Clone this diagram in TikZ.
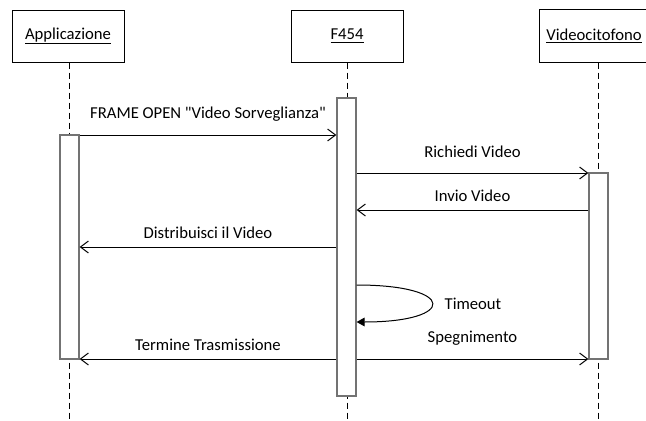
\documentclass[tikz,border=0pt]{standalone}
\usepackage{fontspec}
\setmainfont{Carlito}
\usetikzlibrary{arrows.meta}
\tikzset{
  obj/.style={draw, line width=0.75pt, minimum width=84pt, minimum height=39pt, inner sep=0pt},
  act/.style={draw=black!55, fill=white, line width=0.9pt, minimum width=14.25pt, inner sep=0pt},
  lifeline/.style={line width=0.75pt, dash pattern=on 4.5pt off 3pt},
  msg/.style={line width=0.75pt, -{Straight Barb[length=6pt,width=9pt]}},
  selfmsg/.style={line width=0.75pt, -{Triangle[length=6pt,width=6.5pt]}},
  lblhigh/.style={midway, yshift=15.75pt},
  lbllow/.style={midway, yshift=10.5pt}
}
\begin{document}
\begin{tikzpicture}[x=0.75pt, y=-0.75pt, font=\fontsize{12.5}{15}\selectfont]
  \clip (0,0) rectangle (646,421);
  % Oggetti
  \node[obj] (A) at (68,36) {\underline{Applicazione}};
  \node[obj] (F) at (347,36) {\underline{F454}};
  \node[obj, draw=none, minimum width=99pt] (V) at (606,36) {};
  \draw[line width=0.75pt] (V.north east) -- (V.north west) -- (V.south west) -- (V.south east);
  \node at (594,36) {\underline{Videocitofono}};
  % Linee di vita
  \draw[lifeline] (A.south -| 69,0) -- (69,421);
  \draw[lifeline] (F.south -| 347,0) -- (347,421);
  \draw[lifeline] (V.south -| 598,0) -- (598,421);
  % Attivazioni
  \node[act, minimum height=168pt] (actA) at (69.5,247) {};
  \node[act, minimum height=223.5pt] (actF) at (346.5,247) {};
  \node[act, minimum height=139.5pt] (actV) at (598.5,266) {};
  % Righe dei messaggi
  \coordinate (r1) at (0,135);
  \coordinate (r2) at (0,173);
  \coordinate (r3) at (0,210);
  \coordinate (r4) at (0,247);
  \coordinate (r5) at (0,285);
  \coordinate (r6) at (0,322);
  \coordinate (r7) at (0,359);
  % Messaggi
  \draw[msg] (actA.east |- r1) -- node[lblhigh] {FRAME OPEN \textquotedbl Video Sorveglianza\textquotedbl} (actF.west |- r1);
  \draw[msg] (actF.east |- r2) -- node[lblhigh] {Richiedi Video} (actV.west |- r2);
  \draw[msg] (actV.west |- r3) -- node[lbllow] {Invio Video} (actF.east |- r3);
  \draw[msg] (actF.west |- r4) -- node[lbllow] {Distribuisci il Video} (actA.east |- r4);
  \draw[selfmsg] (actF.east |- r5) .. controls (457,285) and (457,322) .. (actF.east |- r6);
  \node (T) at (473,304) {Timeout};
  \draw[msg] (actF.west |- r7) -- node[lbllow] {Termine Trasmissione} (actA.east |- r7);
  \draw[msg] (actF.east |- r7) -- node[lblhigh] {Spegnimento} (actV.west |- r7);
\end{tikzpicture}
\end{document}
